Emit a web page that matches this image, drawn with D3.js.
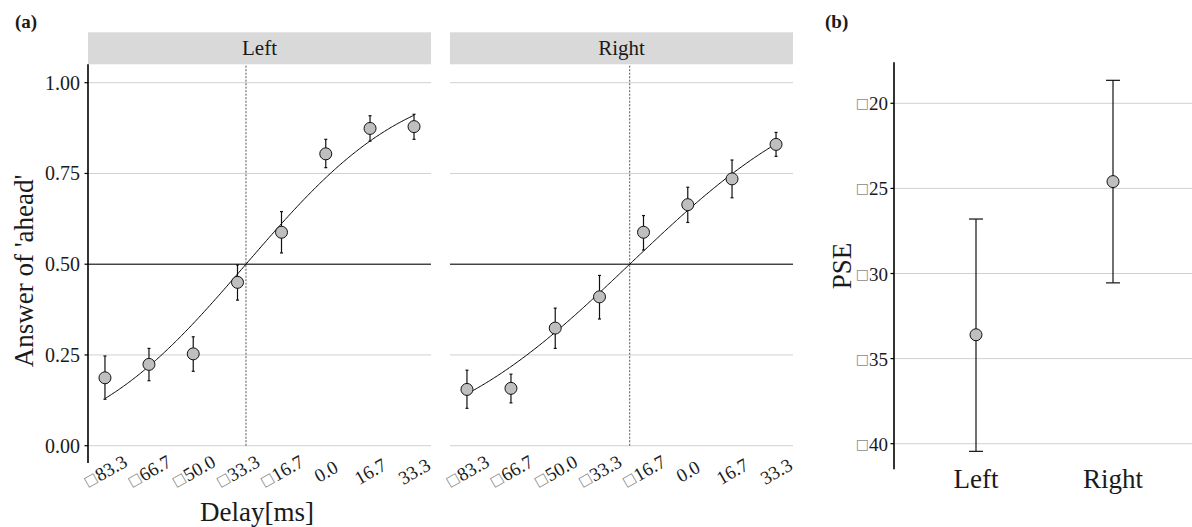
<!DOCTYPE html>
<html>
<head>
<meta charset="utf-8">
<script src="https://cdn.jsdelivr.net/npm/d3@7"></script>
<style>
  html, body { margin: 0; padding: 0; background: #fff; }
  svg { display: block; font-family: "Liberation Serif", "Times New Roman", serif; }
</style>
</head>
<body>
<svg id="chart" width="1192" height="527"></svg>
<script>
// ---- data ----
const delays = [-83.3, -66.7, -50.0, -33.3, -16.7, 0.0, 16.7, 33.3];
const delayLabels = ["□83.3", "□66.7", "□50.0", "□33.3", "□16.7", "0.0", "16.7", "33.3"];
const facets = ["Left", "Right"];

const leftMean  = [0.187, 0.224, 0.253, 0.450, 0.588, 0.804, 0.874, 0.879];
const leftLow   = [0.128, 0.179, 0.205, 0.401, 0.531, 0.766, 0.839, 0.844];
const leftHigh  = [0.247, 0.268, 0.300, 0.498, 0.645, 0.844, 0.909, 0.913];

const rightMean = [0.155, 0.158, 0.324, 0.410, 0.588, 0.664, 0.735, 0.830];
const rightLow  = [0.103, 0.118, 0.268, 0.349, 0.539, 0.615, 0.683, 0.797];
const rightHigh = [0.208, 0.197, 0.379, 0.469, 0.634, 0.712, 0.787, 0.863];

// probit fit per facet: point of subjective equality and slope (sd)
const fitPSE   = [-30.1, -21.9];
const fitSigma = [47.2, 57.5];

const yTicks = [0, 0.25, 0.5, 0.75, 1.0];
const yTickLabels = ["0.00", "0.25", "0.50", "0.75", "1.00"];

// panel (b): PSE per side with confidence interval
const pseSides = ["Left", "Right"];
const pseMean  = [-33.6, -24.6];
const pseLow   = [-40.45, -30.55];
const pseHigh  = [-26.8, -18.65];
const pseTicks = [-20, -25, -30, -35, -40];
const pseTickLabels = ["□20", "□25", "□30", "□35", "□40"];

// ---- helpers ----
function erf(x) {
  const s = Math.sign(x); x = Math.abs(x);
  const a1 = 0.254829592, a2 = -0.284496736, a3 = 1.421413741, a4 = -1.453152027, a5 = 1.061405429, p = 0.3275911;
  const t = 1 / (1 + p * x);
  const y = 1 - (((((a5 * t + a4) * t) + a3) * t + a2) * t + a1) * t * Math.exp(-x * x);
  return s * y;
}
const pnorm = (x, mu, sd) => 0.5 * (1 + erf((x - mu) / (sd * Math.SQRT2)));

// tick label with the unrenderable minus drawn as a box glyph
function boxText(sel, label) {
  sel.text(null);
  if (label.startsWith("□")) {
    sel.append("tspan").attr("font-family", "DejaVu Sans").attr("font-size", "0.74em")
      .attr("fill", "#8a8a8a").text("□");
    sel.append("tspan").text(label.slice(1));
  } else {
    sel.append("tspan").text(label);
  }
}

const svg = d3.select("#chart");
const ink = "#1a1a1a";

// ---- panel (a) ----
const panelTop = 64.3, panelBottom = 463;
const y = d3.scaleLinear().domain([0, 1]).range([445.7, 82.7]);
const panelX = [[88, 431], [450, 793]];
const series = [
  { mean: leftMean, low: leftLow, high: leftHigh },
  { mean: rightMean, low: rightLow, high: rightHigh }
];

svg.append("text").attr("x", 15).attr("y", 28).attr("font-size", 19).attr("font-weight", "bold")
  .attr("fill", ink).text("(a)");

facets.forEach((name, i) => {
  const [x0, x1] = panelX[i];
  const x = d3.scaleLinear().domain([-89.7, 39.7]).range([x0, x1]);
  const g = svg.append("g");

  // strip
  g.append("rect").attr("x", x0).attr("y", 32.3).attr("width", x1 - x0).attr("height", 32)
    .attr("fill", "#d9d9d9");
  g.append("text").attr("x", (x0 + x1) / 2).attr("y", 55).attr("text-anchor", "middle")
    .attr("font-size", 21).attr("fill", ink).text(name);

  // horizontal grid
  g.selectAll(".grid").data(yTicks).join("line")
    .attr("x1", x0).attr("x2", x1).attr("y1", d => y(d)).attr("y2", d => y(d))
    .attr("stroke", "#d0d0d0").attr("stroke-width", 1);

  // reference lines
  g.append("line").attr("x1", x0).attr("x2", x1).attr("y1", y(0.5)).attr("y2", y(0.5))
    .attr("stroke", "#000").attr("stroke-width", 1);
  g.append("line").attr("x1", x(fitPSE[i])).attr("x2", x(fitPSE[i]))
    .attr("y1", y(0)).attr("y2", panelTop)
    .attr("stroke", "#555").attr("stroke-width", 1).attr("stroke-dasharray", "2,1.5");

  // fitted curve
  const xs = d3.range(delays[0], delays[delays.length - 1] + 0.001, 0.5);
  const line = d3.line().x(d => x(d)).y(d => y(pnorm(d, fitPSE[i], fitSigma[i])));
  g.append("path").datum(xs).attr("d", line).attr("fill", "none")
    .attr("stroke", "#000").attr("stroke-width", 1);

  // error bars
  const s = series[i];
  delays.forEach((d, k) => {
    const cx = x(d);
    g.append("line").attr("x1", cx).attr("x2", cx).attr("y1", y(s.low[k])).attr("y2", y(s.high[k]))
      .attr("stroke", "#111").attr("stroke-width", 1.2);
    [s.low[k], s.high[k]].forEach(v => {
      g.append("line").attr("x1", cx - 1.5).attr("x2", cx + 1.5).attr("y1", y(v)).attr("y2", y(v))
        .attr("stroke", "#111").attr("stroke-width", 1.2);
    });
  });

  // points
  g.selectAll(".pt").data(delays).join("circle")
    .attr("cx", d => x(d)).attr("cy", (d, k) => y(s.mean[k])).attr("r", 6)
    .attr("fill", "#bfbfbf").attr("stroke", "#111").attr("stroke-width", 1);

  // x tick labels (rotated)
  g.selectAll(".xt").data(delays).join("text")
    .attr("transform", d => `translate(${x(d)},471) rotate(-30)`)
    .attr("text-anchor", "middle").attr("dominant-baseline", "central")
    .attr("font-size", 19).attr("fill", ink)
    .each(function (d, k) { boxText(d3.select(this), delayLabels[k]); });
});

// y axis of panel (a)
svg.append("line").attr("x1", 88).attr("x2", 88).attr("y1", panelTop).attr("y2", panelBottom)
  .attr("stroke", "#000").attr("stroke-width", 1.6);
yTicks.forEach((t, k) => {
  svg.append("line").attr("x1", 84.5).attr("x2", 88).attr("y1", y(t)).attr("y2", y(t))
    .attr("stroke", "#000").attr("stroke-width", 1.2);
  svg.append("text").attr("x", 80).attr("y", y(t)).attr("text-anchor", "end")
    .attr("dominant-baseline", "central").attr("font-size", 20).attr("fill", ink)
    .text(yTickLabels[k]);
});
svg.append("text").attr("transform", "translate(33,271) rotate(-90)").attr("text-anchor", "middle")
  .attr("font-size", 27).attr("fill", ink).text("Answer of 'ahead'");
svg.append("text").attr("x", 257).attr("y", 521).attr("text-anchor", "middle")
  .attr("font-size", 27).attr("fill", ink).text("Delay[ms]");

// ---- panel (b) ----
const yB = d3.scaleLinear().domain([-20, -40]).range([103.3, 443.7]);
const xB = d3.scalePoint().domain(pseSides).range([976, 1113]);
const gb = svg.append("g");

gb.append("text").attr("x", 825).attr("y", 28).attr("font-size", 19).attr("font-weight", "bold")
  .attr("fill", ink).text("(b)");

gb.selectAll(".gridb").data(pseTicks).join("line")
  .attr("x1", 894).attr("x2", 1192).attr("y1", d => yB(d)).attr("y2", d => yB(d))
  .attr("stroke", "#d0d0d0").attr("stroke-width", 1);

pseSides.forEach((side, k) => {
  const cx = xB(side);
  gb.append("line").attr("x1", cx).attr("x2", cx).attr("y1", yB(pseLow[k])).attr("y2", yB(pseHigh[k]))
    .attr("stroke", "#111").attr("stroke-width", 1.2);
  [pseLow[k], pseHigh[k]].forEach(v => {
    gb.append("line").attr("x1", cx - 7).attr("x2", cx + 7).attr("y1", yB(v)).attr("y2", yB(v))
      .attr("stroke", "#111").attr("stroke-width", 1.2);
  });
  gb.append("circle").attr("cx", cx).attr("cy", yB(pseMean[k])).attr("r", 6)
    .attr("fill", "#bfbfbf").attr("stroke", "#111").attr("stroke-width", 1);
  gb.append("text").attr("x", cx).attr("y", 488).attr("text-anchor", "middle")
    .attr("font-size", 27).attr("fill", ink).text(side);
});

gb.append("line").attr("x1", 894).attr("x2", 894).attr("y1", 62.3).attr("y2", 469.3)
  .attr("stroke", "#000").attr("stroke-width", 1.6);
pseTicks.forEach((t, k) => {
  gb.append("line").attr("x1", 890.5).attr("x2", 894).attr("y1", yB(t)).attr("y2", yB(t))
    .attr("stroke", "#000").attr("stroke-width", 1.2);
  gb.append("text").attr("x", 888).attr("y", yB(t)).attr("text-anchor", "end")
    .attr("dominant-baseline", "central").attr("font-size", 19).attr("fill", ink)
    .each(function () { boxText(d3.select(this), pseTickLabels[k]); });
});
gb.append("text").attr("transform", "translate(851,266) rotate(-90)").attr("text-anchor", "middle")
  .attr("font-size", 27).attr("fill", ink).text("PSE");
</script>
</body>
</html>
